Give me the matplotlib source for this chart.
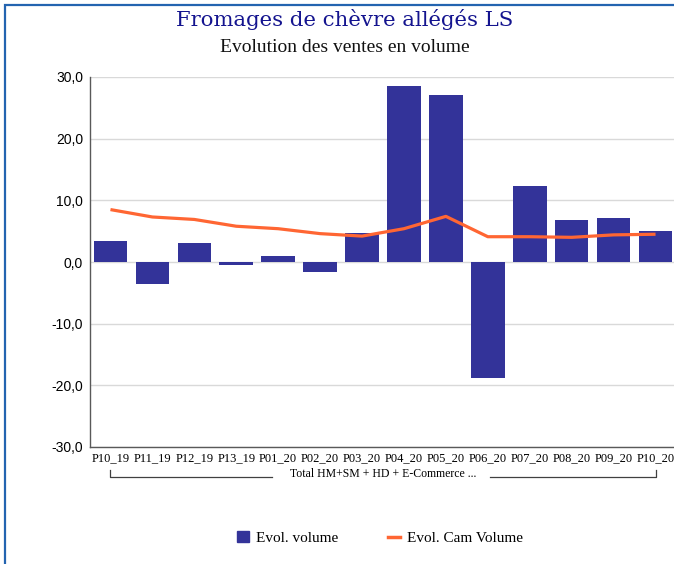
import matplotlib
matplotlib.use("Agg")
import matplotlib.pyplot as plt
import matplotlib.transforms as mtransforms
from matplotlib.patches import Rectangle
from matplotlib.lines import Line2D
import numpy as np

categories = ["P10_19", "P11_19", "P12_19", "P13_19", "P01_20", "P02_20", "P03_20",
              "P04_20", "P05_20", "P06_20", "P07_20", "P08_20", "P09_20", "P10_20"]
evol_volume = [3.4, -3.6, 3.1, -0.5, 1.0, -1.6, 4.7, 28.5, 27.1, -18.8, 12.3, 6.8, 7.1, 5.0]
evol_cam_volume = [8.5, 7.3, 6.9, 5.8, 5.4, 4.6, 4.2, 5.4, 7.4, 4.1, 4.1, 4.0, 4.4, 4.5]
yticks = [-30, -20, -10, 0, 10, 20, 30]
group_label = "Total HM+SM + HD + E-Commerce ..."
title = "Fromages de chèvre allégés LS"
subtitle = "Evolution des ventes en volume"

W, H = 674, 564
fig = plt.figure(figsize=(W / 100, H / 100), dpi=100)
fig.patch.set_facecolor("white")

# blue frame (left and top visible)
fig.add_artist(Rectangle((5.0 / W, -0.05), 1.2, 1.05 - 4.5 / H,
                         transform=fig.transFigure, fill=False,
                         edgecolor="#2364b0", linewidth=1.6, zorder=0))

ax = fig.add_axes([89.5 / W, 1 - 447 / H, 587 / W, (447 - 77) / H])
x = np.arange(len(categories))
ax.bar(x, evol_volume, width=0.8, color="#333399", zorder=2, label="Evol. volume")
ax.plot(x, evol_cam_volume, color="#ff6633", linewidth=2.3, zorder=3,
        solid_capstyle="butt", label="Evol. Cam Volume")

ax.set_xlim(-0.5, len(categories) - 0.5)
ax.set_ylim(-30, 30)
ax.set_yticks(yticks)
ax.set_yticklabels([f"{v:.1f}".replace(".", ",") for v in yticks],
                   family="Liberation Sans", fontsize=10)
ax.set_xticks(x)
ax.set_xticklabels(categories, family="Liberation Serif", fontsize=9)
ax.tick_params(axis="x", length=0, pad=4)
ax.tick_params(axis="y", length=0, pad=4.5)
ax.grid(axis="y", color="#d9d9d9", linewidth=1, zorder=0)
ax.set_axisbelow(True)
for s in ["top", "right"]:
    ax.spines[s].set_visible(False)
ax.spines["left"].set_color("#595959")
ax.spines["bottom"].set_color("#595959")
ax.spines["left"].set_linewidth(1)
ax.spines["bottom"].set_linewidth(1)

# group bracket
trans = mtransforms.blended_transform_factory(ax.transData, fig.transFigure)
yb = 1 - 476.5 / H
yt = 1 - 470 / H
xl, xr = 0, len(categories) - 1
mid = (xl + xr) / 2
kw = dict(transform=trans, color="#404040", linewidth=0.9, clip_on=False)
fig.add_artist(Line2D([xl, xl, 3.85], [yt, yb, yb], **kw))
fig.add_artist(Line2D([9.05, xr, xr], [yb, yb, yt], **kw))
ax.text(mid, 1 - 474 / H, group_label, transform=trans, ha="center", va="center",
        family="Liberation Serif", fontsize=8.5)

fig.text(345 / W, 1 - 20 / H, title, ha="center", va="center",
         family="DejaVu Serif", fontsize=15.3, color="#14148f")
fig.text(345 / W, 1 - 48 / H, subtitle, ha="center", va="center",
         family="Liberation Serif", fontsize=14, color="#111111")

handles = [Rectangle((0, 0), 1, 1, color="#333399"),
           Line2D([0], [0], color="#ff6633", linewidth=2.5)]
fig.legend(handles, ["Evol. volume", "Evol. Cam Volume"], loc="center",
           bbox_to_anchor=(380 / W, 1 - 538 / H), ncol=2, frameon=False,
           prop={"family": "Liberation Serif", "size": 11},
           handlelength=0.8, handleheight=0.7, columnspacing=3.2, handletextpad=0.5)

fig.savefig("out.png", dpi=100)
